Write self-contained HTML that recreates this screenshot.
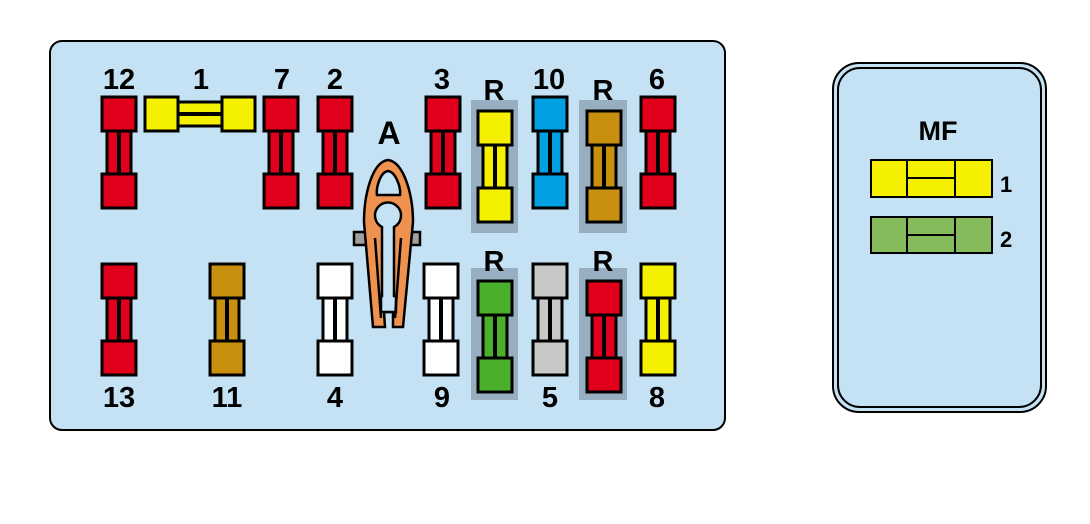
<!DOCTYPE html>
<html><head><meta charset="utf-8"><style>
html,body{margin:0;padding:0;background:#fff;}
svg{display:block;}
text{font-family:"Liberation Sans",sans-serif;font-weight:bold;fill:#000;}
</style></head><body>
<svg width="1090" height="524" viewBox="0 0 1090 524" xmlns="http://www.w3.org/2000/svg">
<defs>
<g id="fz" stroke="#000" stroke-width="3">
  <rect x="5" y="34" width="24" height="43"/>
  <line x1="17" y1="34" x2="17" y2="77" stroke-width="4"/>
  <rect x="0" y="0" width="34" height="34"/>
  <rect x="0" y="77" width="34" height="34"/>
</g>
</defs>
<rect x="50" y="41" width="675" height="389" rx="12" fill="#c5e2f5" stroke="#000" stroke-width="2"/>
<rect x="471" y="100" width="47" height="133" fill="#97afc0"/>
<rect x="579" y="100" width="48" height="133" fill="#97afc0"/>
<rect x="471" y="268" width="47" height="132" fill="#97afc0"/>
<rect x="579" y="268" width="48" height="132" fill="#97afc0"/>
<use href="#fz" x="102" y="97" fill="#e0001b"/>
<g stroke="#000" stroke-width="3" fill="#f5ef00">
  <rect x="178" y="102" width="44" height="24"/>
  <line x1="178" y1="114" x2="222" y2="114" stroke-width="4"/>
  <rect x="145" y="97" width="33" height="34"/>
  <rect x="222" y="97" width="33" height="34"/>
</g>
<use href="#fz" x="264" y="97" fill="#e0001b"/>
<use href="#fz" x="318" y="97" fill="#e0001b"/>
<use href="#fz" x="426" y="97" fill="#e0001b"/>
<use href="#fz" x="478" y="111" fill="#f5ef00"/>
<use href="#fz" x="533" y="97" fill="#00a0e3"/>
<use href="#fz" x="587" y="111" fill="#c8900e"/>
<use href="#fz" x="641" y="97" fill="#e0001b"/>
<use href="#fz" x="102" y="264" fill="#e0001b"/>
<use href="#fz" x="210" y="264" fill="#c8900e"/>
<use href="#fz" x="318" y="264" fill="#ffffff"/>
<use href="#fz" x="424" y="264" fill="#ffffff"/>
<use href="#fz" x="478" y="281" fill="#4aaf2a"/>
<use href="#fz" x="533" y="264" fill="#c8c8c8"/>
<use href="#fz" x="587" y="281" fill="#e0001b"/>
<use href="#fz" x="641" y="264" fill="#f5ef00"/>
<g stroke="#000" stroke-width="2.5">
  <rect x="354" y="232" width="12" height="13" fill="#a0a0a0"/>
  <rect x="407" y="232" width="13" height="13" fill="#a0a0a0"/>
  <path d="M388,160 C372,162 364,195 364,222 L373,327 L385,327 L384,312 L393,312 L393,327 L403,327 L413,222 C413,195 404,162 388,160 Z" fill="#f0924f"/>
  <path d="M388,171 C380,172 376,188 377,195 L400,195 C401,188 396,172 388,171 Z" fill="#c5e2f5"/>
  <path d="M382,227 A13,13 0 1 1 394,227 L394,296 L396,296 L396,312 L381,312 L381,296 L382,296 Z" fill="#c5e2f5"/>
  <path d="M375,238 L381,318" fill="none"/>
  <path d="M401,238 L395,318" fill="none"/>
</g>
<g font-size="29" text-anchor="middle">
<text x="119" y="89">12</text>
<text x="201" y="89">1</text>
<text x="282" y="89">7</text>
<text x="335" y="89">2</text>
<text x="442" y="89">3</text>
<text x="494" y="100">R</text>
<text x="549" y="89">10</text>
<text x="603" y="100">R</text>
<text x="657" y="89">6</text>
<text x="389" y="144" font-size="32">A</text>
<text x="494" y="271">R</text>
<text x="603" y="271">R</text>
<text x="119" y="407">13</text>
<text x="227" y="407">11</text>
<text x="335" y="407">4</text>
<text x="442" y="407">9</text>
<text x="550" y="407">5</text>
<text x="657" y="407">8</text>
</g>
<rect x="833" y="63" width="213" height="349" rx="26" fill="#c5e2f5" stroke="#000" stroke-width="2"/>
<rect x="838" y="68" width="203" height="339" rx="22" fill="none" stroke="#000" stroke-width="2"/>
<text x="938" y="140" font-size="27" text-anchor="middle">MF</text>
<g stroke="#000" stroke-width="2">
  <rect x="871" y="160" width="121" height="37" fill="#f5ef00"/>
  <line x1="907" y1="160" x2="907" y2="197"/><line x1="955" y1="160" x2="955" y2="197"/>
  <line x1="907" y1="178" x2="955" y2="178"/>
  <rect x="871" y="217" width="121" height="36" fill="#86bb5c"/>
  <line x1="907" y1="217" x2="907" y2="253"/><line x1="955" y1="217" x2="955" y2="253"/>
  <line x1="907" y1="235" x2="955" y2="235"/>
</g>
<text x="1000" y="192" font-size="22">1</text>
<text x="1000" y="247" font-size="22">2</text>
</svg>
</body></html>
